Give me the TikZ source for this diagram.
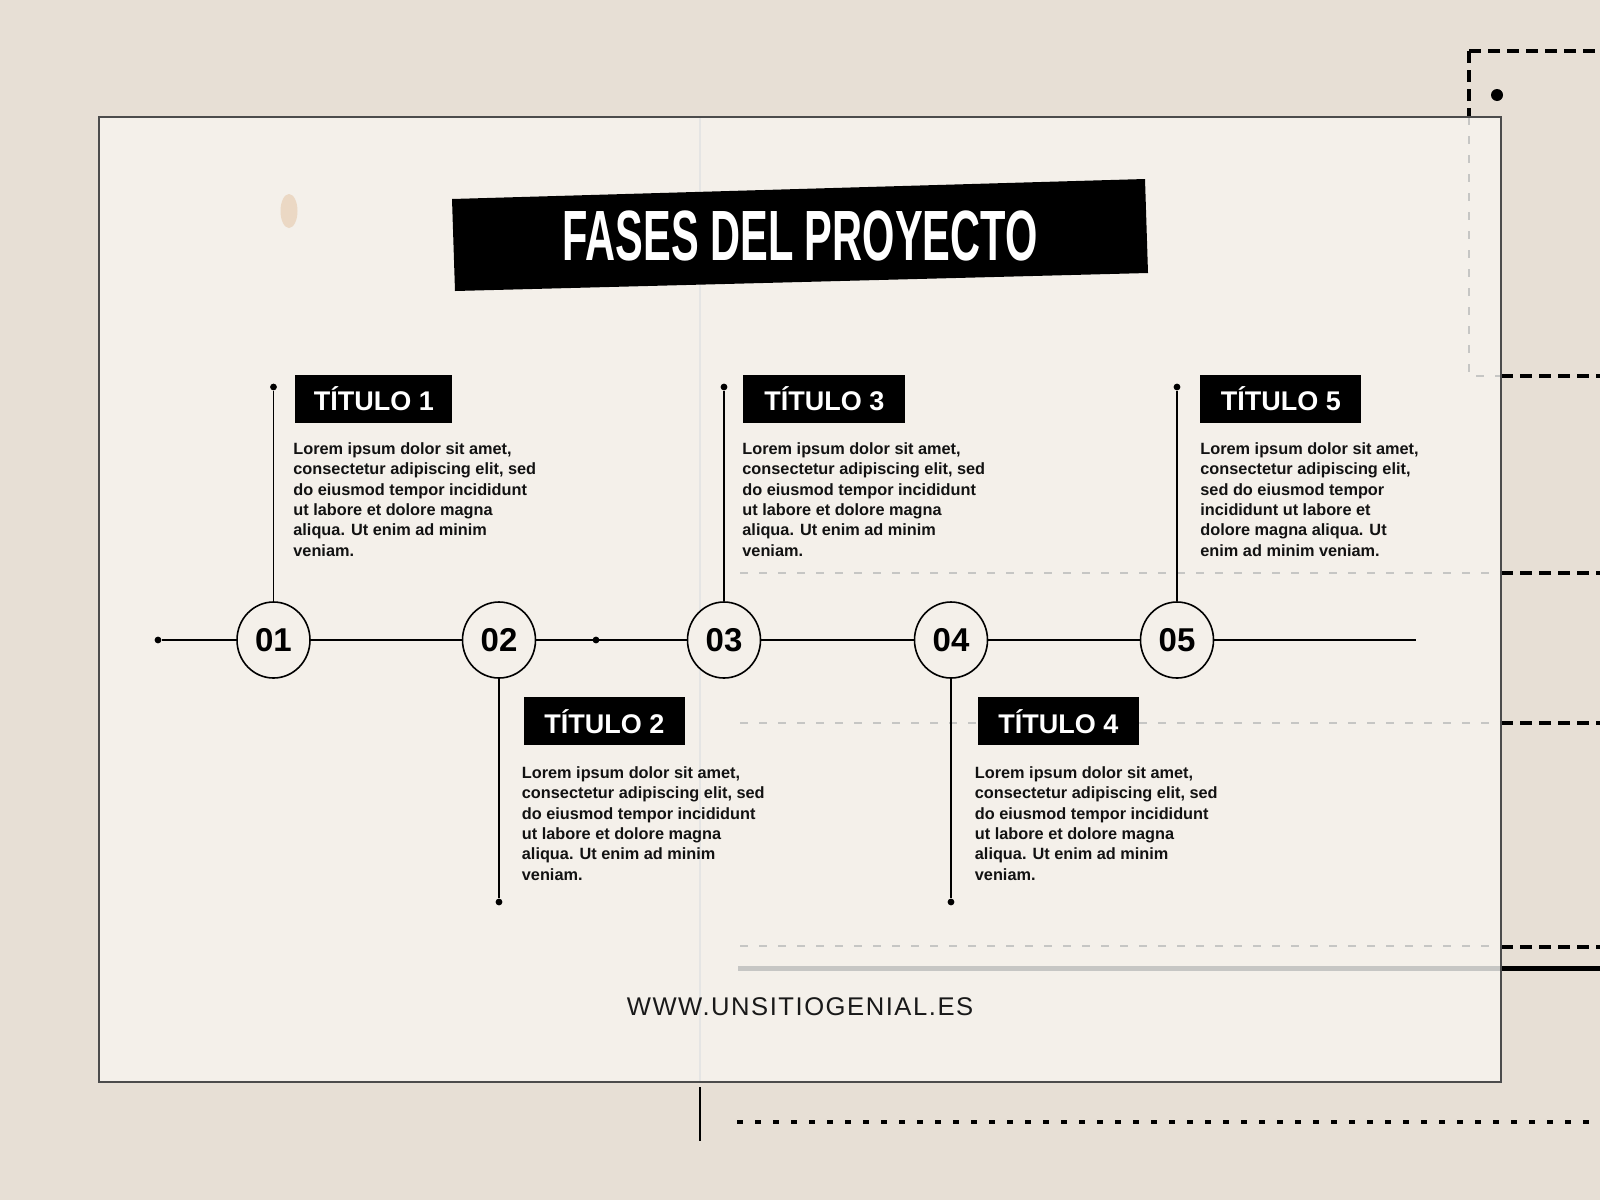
\documentclass[tikz,border=0pt]{standalone}
\usepackage{fontspec}
\setmainfont{Liberation Sans}
\newfontfamily\urlfont[LetterSpace=6]{Liberation Sans}
\usetikzlibrary{shapes.geometric}
\definecolor{paper}{HTML}{E7DFD5}
\definecolor{panel}{HTML}{F4F0EA}
\definecolor{fold}{HTML}{C6C6C4}
\definecolor{stain}{HTML}{EBD8C4}
\begin{document}
\begin{tikzpicture}[x=0.5pt,y=-0.5pt,
  numcirc/.style={ellipse, draw=black, line width=0.8pt, fill=panel, minimum width=36.5pt, minimum height=38pt, inner sep=0pt, font=\fontsize{16.5}{16}\selectfont\bfseries},
  dotnode/.style={circle, fill=black, minimum size=3.4pt, inner sep=0pt},
  titlebox/.style={fill=black, text=white, anchor=north west, minimum height=24pt, inner sep=0pt, font=\fontsize{13.5}{16}\selectfont\bfseries},
  bodytext/.style={anchor=north west, align=left, inner sep=0pt, text=black!93, font=\fontsize{8.15}{10.2}\selectfont\bfseries},
  conn/.style={line width=0.75pt, black},
  grayd/.style={fold, line width=1pt, dash pattern=on 4pt off 5.5pt},
  blackd/.style={black, line width=2pt, dash pattern=on 6pt off 3.5pt}]
\useasboundingbox (0,0) rectangle (1600,1200);
\fill[paper] (0,0) rectangle (1600,1200);
% outer decorations
\draw[blackd] (1469,51) -- (1600,51);
\draw[blackd] (1469,51) -- (1469,117);
\fill[black] (1497,95) circle (3pt);
\draw[blackd] (1501,376) -- (1600,376);
\draw[blackd] (1501,573) -- (1600,573);
\draw[blackd] (1501,723) -- (1600,723);
\draw[blackd] (1501,947) -- (1600,947);
\draw[black, line width=2.5pt] (1501,968) -- (1600,968);
\draw[black, line width=1.8pt, dash pattern=on 3pt off 6pt] (737,1122) -- (1600,1122);
\draw[black, line width=1pt] (700,1087) -- (700,1141);
% panel
\fill[panel] (99,117) rectangle (1501,1082);
\fill[stain] (289,211) ellipse (4.25pt and 8.5pt);
\draw[fold!45, line width=0.6pt] (700,117) -- (700,1082);
\draw[grayd] (1469,117) -- (1469,376) -- (1501,376);
\draw[grayd] (740,573) -- (1501,573);
\draw[grayd] (740,723) -- (1501,723);
\draw[grayd] (740,946) -- (1501,946);
\draw[fold, line width=2.5pt] (738,968) -- (1501,968);
\draw[black!70, line width=0.75pt] (99,117) rectangle (1501,1082);
% banner
\fill[black] (452,199) -- (1145,179) -- (1148,273) -- (455,291) -- cycle;
\node[text=white, inner sep=0pt, font=\fontsize{35.6}{36}\selectfont\bfseries] (title) at (800,236) {\scalebox{0.584}[1]{FASES DEL PROYECTO}};
% timeline
\node[dotnode] (s) at (158,640) {};
\coordinate (e) at (1416,640);
\node[dotnode] (m) at (596,640) {};
\node[numcirc] (c1) at (273.5,640) {01};
\node[numcirc] (c2) at (499,640) {02};
\node[numcirc] (c3) at (724,640) {03};
\node[numcirc] (c4) at (951,640) {04};
\node[numcirc] (c5) at (1177,640) {05};
\draw[conn] (s) -- (c1) -- (c2) -- (c3) -- (c4) -- (c5) -- (e);
% stems
\node[dotnode] (d1) at (273.5,387) {};
\node[dotnode] (d2) at (499,902) {};
\node[dotnode] (d3) at (724,387) {};
\node[dotnode] (d4) at (951,902) {};
\node[dotnode] (d5) at (1177,387) {};
\draw[conn] (c1) -- (d1);
\draw[conn] (c2) -- (d2);
\draw[conn] (c3) -- (d3);
\draw[conn] (c4) -- (d4);
\draw[conn] (c5) -- (d5);
% titles
\node[titlebox, minimum width=78.5pt] (t1) at (295,374.5) {TÍTULO 1};
\node[titlebox, minimum width=81pt] (t3) at (743,374.5) {TÍTULO 3};
\node[titlebox, minimum width=80.5pt] (t5) at (1200,374.5) {TÍTULO 5};
\node[titlebox, minimum width=80.5pt] (t2) at (523.5,697) {TÍTULO 2};
\node[titlebox, minimum width=80.5pt] (t4) at (977.5,697) {TÍTULO 4};
% bodies
\node[bodytext] (b1) at (293,442) {Lorem ipsum dolor sit amet,\\consectetur adipiscing elit, sed\\do eiusmod tempor incididunt\\ut labore et dolore magna\\aliqua. Ut enim ad minim\\veniam.};
\node[bodytext] (b3) at (742,442) {Lorem ipsum dolor sit amet,\\consectetur adipiscing elit, sed\\do eiusmod tempor incididunt\\ut labore et dolore magna\\aliqua. Ut enim ad minim\\veniam.};
\node[bodytext] (b5) at (1200,442) {Lorem ipsum dolor sit amet,\\consectetur adipiscing elit,\\sed do eiusmod tempor\\incididunt ut labore et\\dolore magna aliqua. Ut\\enim ad minim veniam.};
\node[bodytext] (b2) at (521.5,766) {Lorem ipsum dolor sit amet,\\consectetur adipiscing elit, sed\\do eiusmod tempor incididunt\\ut labore et dolore magna\\aliqua. Ut enim ad minim\\veniam.};
\node[bodytext] (b4) at (974.5,766) {Lorem ipsum dolor sit amet,\\consectetur adipiscing elit, sed\\do eiusmod tempor incididunt\\ut labore et dolore magna\\aliqua. Ut enim ad minim\\veniam.};
% footer
\node[inner sep=0pt, text=black!90] (url) at (800,1007) {\urlfont\fontsize{12.8}{15}\selectfont WWW.UNSITIOGENIAL.ES};
\end{tikzpicture}
\end{document}
